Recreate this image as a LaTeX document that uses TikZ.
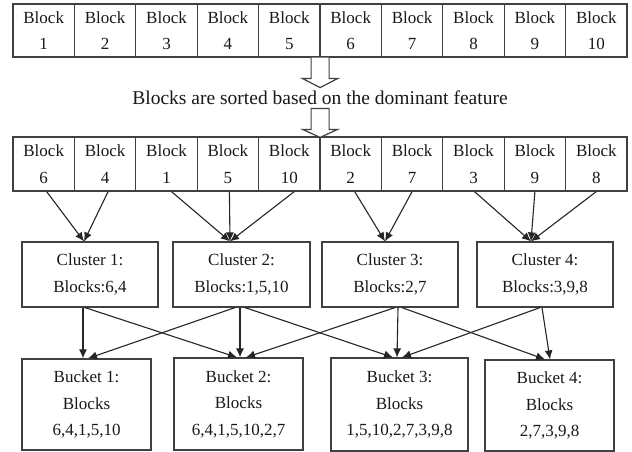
\documentclass[tikz,border=0pt]{standalone}
\usepackage{fontspec}
\setmainfont{Liberation Serif}
\usetikzlibrary{arrows.meta,calc}
\begin{document}
\begin{tikzpicture}[x=1pt,y=-1pt,
  lbl/.style={font=\fontsize{17}{26.5}\selectfont, text=black!90, align=center, inner sep=0pt},
  cell/.style={lbl, draw=black!75, line width=1.2pt, minimum width=61.4pt, minimum height=53pt},
  box/.style={lbl, draw=black!75, line width=1.2pt},
  arr/.style={draw=black!85, line width=1.1pt, -{Latex[length=9pt,width=8pt]}},
  hollow/.style={draw=black!75, line width=1.2pt, fill=white, line join=miter}]
\useasboundingbox[fill=white] (0,0) rectangle (632,452);

% top row
\foreach \i in {1,...,10}
  \node[cell] (t\i) at ({13+61.4*(\i-0.5)},30.5) {Block\\\i};

% sorted row
\foreach \b [count=\i] in {6,4,1,5,10,2,7,3,9,8}
  \node[cell, minimum height=54pt] (s\i) at ({13+61.4*(\i-0.5)},164) {Block\\\b};

% caption
\node[lbl, font=\fontsize{19.5}{24}\selectfont] (txt) at (320,98) {Blocks are sorted based on the dominant feature};

% hollow arrows
\coordinate (h1) at ($(t5.south east)+(-0.5,0)$);
\coordinate (h2) at ($(s5.north east)+(-0.5,-28)$);
\draw[hollow] ($(h1)+(-9,0)$) -- ++(0,21) -- ++(-8.5,0) -- ($(h1)+(0,30)$)
  -- ($(h1)+(17.5,21)$) -- ++(-8.5,0) -- ($(h1)+(9,0)$);
\draw[hollow] ($(h2)+(-9,0)$) -- ++(0,21) -- ++(-8.5,0) -- ($(h2)+(0,29)$)
  -- ($(h2)+(17.5,21)$) -- ++(-8.5,0) -- ($(h2)+(9,0)$) -- cycle;

% clusters
\node[box, minimum width=136pt, minimum height=65pt] (c1) at (90,274.5) {Cluster 1:\\Blocks:6,4};
\node[box, minimum width=137pt, minimum height=65pt] (c2) at (241.5,274.5) {Cluster 2:\\Blocks:1,5,10};
\node[box, minimum width=136pt, minimum height=65pt] (c3) at (390,274.5) {Cluster 3:\\Blocks:2,7};
\node[box, minimum width=136pt, minimum height=65pt] (c4) at (545,274.5) {Cluster 4:\\Blocks:3,9,8};

% buckets
\node[box, minimum width=129pt, minimum height=91pt] (b1) at (86.5,404.5) {Bucket 1:\\Blocks\\6,4,1,5,10};
\node[box, minimum width=129pt, minimum height=92pt] (b2) at (238.5,404) {Bucket 2:\\Blocks\\6,4,1,5,10,2,7};
\node[box, minimum width=137pt, minimum height=93pt] (b3) at (399.5,404.5) {Bucket 3:\\Blocks\\1,5,10,2,7,3,9,8};
\node[box, minimum width=129pt, minimum height=91pt] (b4) at (549.5,405.5) {Bucket 4:\\Blocks\\2,7,3,9,8};

% blocks -> clusters
\draw[arr] ($(s1.south)+(3,0)$) -- ($(c1.north)+(-6,0)$);
\draw[arr] ($(s2.south)+(3,0)$) -- ($(c1.north)+(-6,0)$);
\draw[arr] ($(s3.south)+(5,0)$) -- ($(c2.north)+(-11.5,0)$);
\draw[arr] ($(s4.south)+(1.5,0)$) -- ($(c2.north)+(-11.5,0)$);
\draw[arr] ($(s5.south)+(5,0)$) -- ($(c2.north)+(-11.5,0)$);
\draw[arr] ($(s6.south)+(4,0)$) -- ($(c3.north)+(-5,0)$);
\draw[arr] ($(s7.south)+(0,0)$) -- ($(c3.north)+(-5,0)$);
\draw[arr] ($(s8.south)+(1,0)$) -- ($(c4.north)+(-14,0)$);
\draw[arr] ($(s9.south)+(0,0)$) -- ($(c4.north)+(-14,0)$);
\draw[arr] ($(s10.south)+(0,0)$) -- ($(c4.north)+(-14,0)$);

% clusters -> buckets
\draw[arr] ($(c1.south)+(-7,0)$) -- ($(b1.north)+(-3.5,0)$);
\draw[arr] ($(c1.south)+(-5,0)$) -- ($(b2.north)+(-1.5,0)$);
\draw[arr] ($(c2.south)+(-6.5,0)$) -- ($(b1.north)+(1.5,0)$);
\draw[arr] ($(c2.south)+(-1.5,0)$) -- ($(b2.north)+(1.5,0)$);
\draw[arr] ($(c2.south)+(3.5,0)$) -- ($(b3.north)+(-6.5,0)$);
\draw[arr] ($(c3.south)+(5,0)$) -- ($(b2.north)+(7.5,0)$);
\draw[arr] ($(c3.south)+(8,0)$) -- ($(b3.north)+(-2.5,0)$);
\draw[arr] ($(c3.south)+(12,0)$) -- ($(b4.north)+(-4.5,0)$);
\draw[arr] ($(c4.south)+(-5,0)$) -- ($(b3.north)+(2.5,0)$);
\draw[arr] ($(c4.south)+(-3,0)$) -- ($(b4.north)+(0.5,0)$);
\end{tikzpicture}
\end{document}
